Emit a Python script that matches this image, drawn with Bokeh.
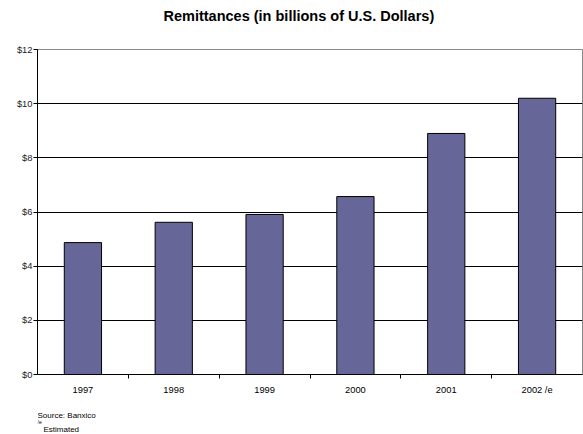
import numpy as np
from bokeh.plotting import figure
from bokeh.layouts import column
from bokeh.models import (ColumnDataSource, FixedTicker, Range1d, Label)
from bokeh.embed import file_html
from bokeh.resources import INLINE

years = ["1997", "1998", "1999", "2000", "2001", "2002 /e"]
remittances = [4.87, 5.62, 5.91, 6.57, 8.90, 10.20]
y_ticks = [0, 2, 4, 6, 8, 10, 12]
y_labels = ["$0", "$2", "$4", "$6", "$8", "$10", "$12"]
title_text = "Remittances (in billions of U.S. Dollars)"
source_text = "Source: Banxico"
note_mark = "/e"
note_text = "Estimated"

FONT = "Liberation Sans"
W = 583
LEFT = 37


def text_panel(height):
    f = figure(width=W, height=height, output_backend="svg", toolbar_location=None,
               x_range=Range1d(0, W - LEFT - 1), y_range=Range1d(0, height),
               min_border_left=LEFT, min_border_right=1,
               min_border_top=0, min_border_bottom=0)
    f.axis.visible = False
    f.grid.visible = False
    f.outline_line_color = None
    f.background_fill_color = "white"
    f.border_fill_color = "white"
    return f


# title panel
top = text_panel(30)
top.add_layout(Label(x=163 - LEFT, y=15, x_units="screen", y_units="screen",
                     text=title_text, text_font=FONT, text_font_size="14.5px",
                     text_font_style="bold", text_color="black",
                     text_baseline="middle"))

# main chart
pos = np.arange(len(years)) + 0.5
src = ColumnDataSource(dict(x=pos, top=remittances))

p = figure(width=W, height=370, output_backend="svg", toolbar_location=None,
           x_range=Range1d(0, len(years)), y_range=Range1d(0, 12),
           min_border_left=LEFT, min_border_right=1, min_border_top=19,
           min_border_bottom=26)
p.background_fill_color = "white"
p.border_fill_color = "white"
p.outline_line_color = "#888888"
p.outline_line_width = 1

p.vbar(x="x", top="top", width=0.41, source=src, fill_color="#666699",
       line_color="black", line_width=1)

xa = p.xaxis[0]
xa.ticker = FixedTicker(ticks=list(pos), minor_ticks=list(np.arange(1, len(years))))
xa.major_label_overrides = {float(v): lab for v, lab in zip(pos, years)}
xa.major_tick_line_color = None
xa.minor_tick_line_color = "black"
xa.minor_tick_out = 4
xa.minor_tick_in = 0
xa.axis_line_color = "black"
xa.major_label_text_font = FONT
xa.major_label_text_font_size = "7pt"
xa.major_label_text_color = "black"
xa.major_label_standoff = 4

ya = p.yaxis[0]
ya.ticker = FixedTicker(ticks=y_ticks)
ya.major_label_overrides = {v: lab for v, lab in zip(y_ticks, y_labels)}
ya.major_tick_out = 4
ya.major_tick_in = 0
ya.minor_tick_line_color = None
ya.axis_line_color = "black"
ya.major_label_text_font = FONT
ya.major_label_text_font_size = "7pt"
ya.major_label_text_color = "#222222"
ya.major_label_standoff = 1

p.xgrid.grid_line_color = None
p.ygrid.grid_line_color = "black"
p.ygrid.grid_line_width = 1

# footer panel
bot = text_panel(34)
for txt, x, y, fs in [(source_text, 0, 19, "8px"), (note_mark, 0, 13, "5px"),
                      (note_text, 6, 5, "8px")]:
    bot.add_layout(Label(x=x, y=y, x_units="screen", y_units="screen",
                         text=txt, text_font=FONT, text_font_size=fs,
                         text_color="black", text_baseline="middle"))

layout = column(top, p, bot, spacing=0)
open("out.html", "w").write(file_html(layout, INLINE))
